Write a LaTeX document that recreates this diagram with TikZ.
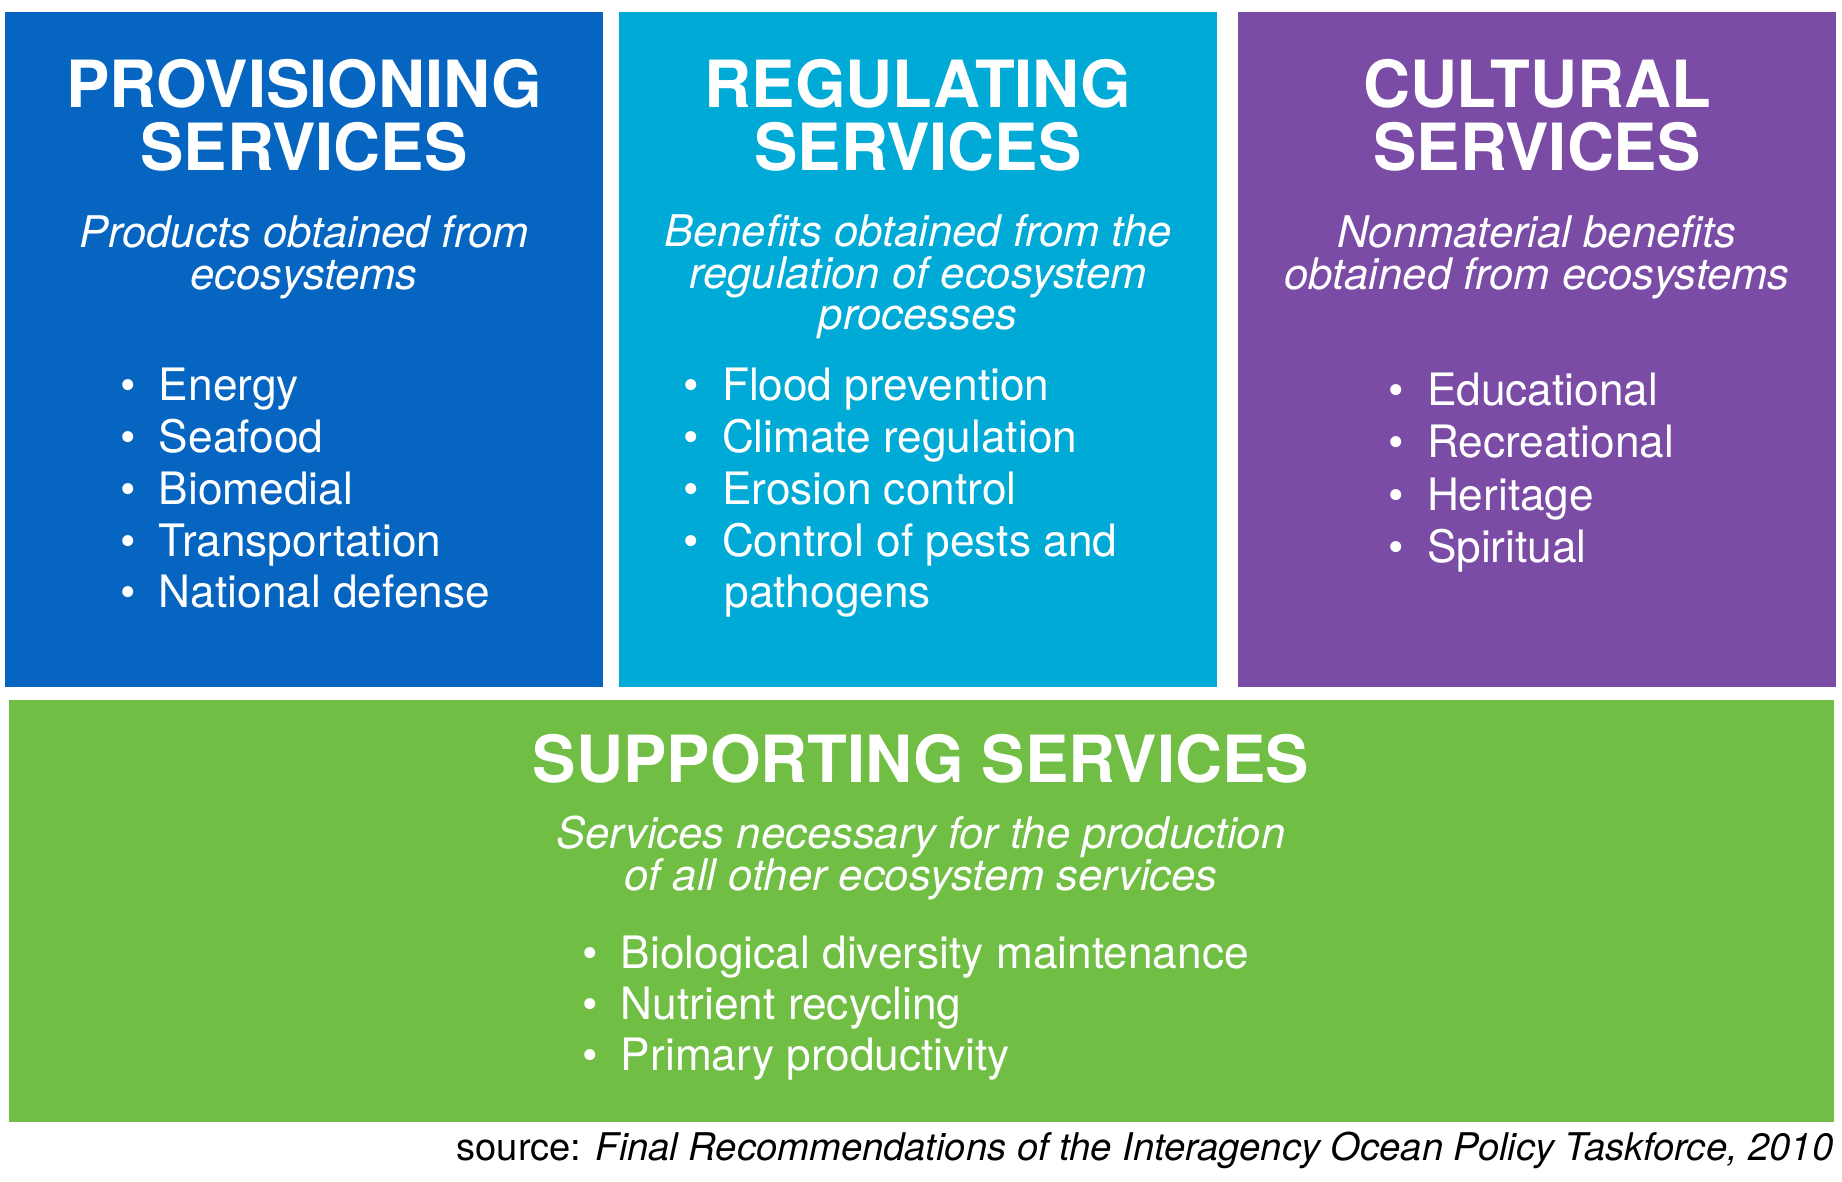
\documentclass[tikz,border=0pt]{standalone}
\usepackage{fontspec}
\setmainfont{TeX Gyre Heros}
\newfontfamily\bodyfont[FakeStretch=0.99]{TeX Gyre Heros}
\definecolor{provblue}{RGB}{5,101,192}
\definecolor{regcyan}{RGB}{0,170,214}
\definecolor{cultpurple}{RGB}{123,76,166}
\definecolor{suppgreen}{RGB}{112,190,68}
\newcommand{\bul}{\textbullet\hspace{6.5pt}}

\begin{document}
\begin{tikzpicture}[x=0.01cm, y=-0.01cm,
  head/.style={anchor=base, inner sep=0pt, text=white, font=\fontsize{18.5}{20}\selectfont\bfseries},
  sub/.style={anchor=base, inner sep=0pt, text=white, font=\fontsize{12.4}{14}\selectfont\itshape},
  item/.style={anchor=base west, inner sep=0pt, text=white, font=\fontsize{12.7}{14}\bodyfont}]
  \useasboundingbox (0,0) rectangle (1842,1182);
  \fill[white] (0,0) rectangle (1842,1182);

  % Boxes
    \fill[provblue] (5,12) rectangle (603,687);
    \fill[regcyan] (619,12) rectangle (1217,687);
    \fill[cultpurple] (1238,12) rectangle (1836,687);
    \fill[suppgreen] (9,700) rectangle (1834,1122);

    % Provisioning
    \node[head] (provT1) at (304,108) {PROVISIONING};
    \node[head] (provT2) at (304,171) {SERVICES};
    \node[sub] (provS1) at (304,248) {Products obtained from};
    \node[sub] (provS2) at (304,290) {ecosystems};
    \node[item] (provA) at (120,400) {\bul Energy};
    \node[item] (provB) at (120,452) {\bul Seafood};
    \node[item] (provC) at (120,504) {\bul Biomedial};
    \node[item] (provD) at (120,556) {\bul Transportation};
    \node[item] (provE) at (120,607) {\bul National defense};

    % Regulating
    \node[head] (regT1) at (918,108) {REGULATING};
    \node[head] (regT2) at (918,171) {SERVICES};
    \node[sub] (regS1) at (918,246) {Benefits obtained from the};
    \node[sub] (regS2) at (918,288) {regulation of ecosystem};
    \node[sub] (regS3) at (918,330) {processes};
    \node[item] (regA) at (683,400) {\bul Flood prevention};
    \node[item] (regB) at (683,452) {\bul Climate regulation};
    \node[item] (regC) at (683,504) {\bul Erosion control};
    \node[item] (regD) at (683,556) {\bul Control of pests and};
    \node[item] (regE) at (724,607) {pathogens};

    % Cultural
    \node[head] (cultT1) at (1537,108) {CULTURAL};
    \node[head] (cultT2) at (1537,171) {SERVICES};
    \node[sub] (cultS1) at (1537,248) {Nonmaterial benefits};
    \node[sub] (cultS2) at (1537,290) {obtained from ecosystems};
    \node[item] (cultA) at (1388,405) {\bul Educational};
    \node[item] (cultB) at (1388,457) {\bul Recreational};
    \node[item] (cultC) at (1388,510) {\bul Heritage};
    \node[item] (cultD) at (1388,562) {\bul Spiritual};

    % Supporting
    \node[head] (suppT) at (921,782) {SUPPORTING SERVICES};
    \node[sub] (suppS1) at (921,848) {Services necessary for the production};
    \node[sub] (suppS2) at (921,890) {of all other ecosystem services};
    \node[item] (suppA) at (582,968) {\bul Biological diversity maintenance};
    \node[item] (suppB) at (582,1019) {\bul Nutrient recycling};
    \node[item] (suppC) at (582,1070) {\bul Primary productivity};

  % Source
  \node[anchor=base east, inner sep=0pt, font=\fontsize{10.85}{12}\selectfont] (src) at (1834,1160) {source: \textit{Final Recommendations of the Interagency Ocean Policy Taskforce, 2010}};

\end{tikzpicture}
\end{document}
